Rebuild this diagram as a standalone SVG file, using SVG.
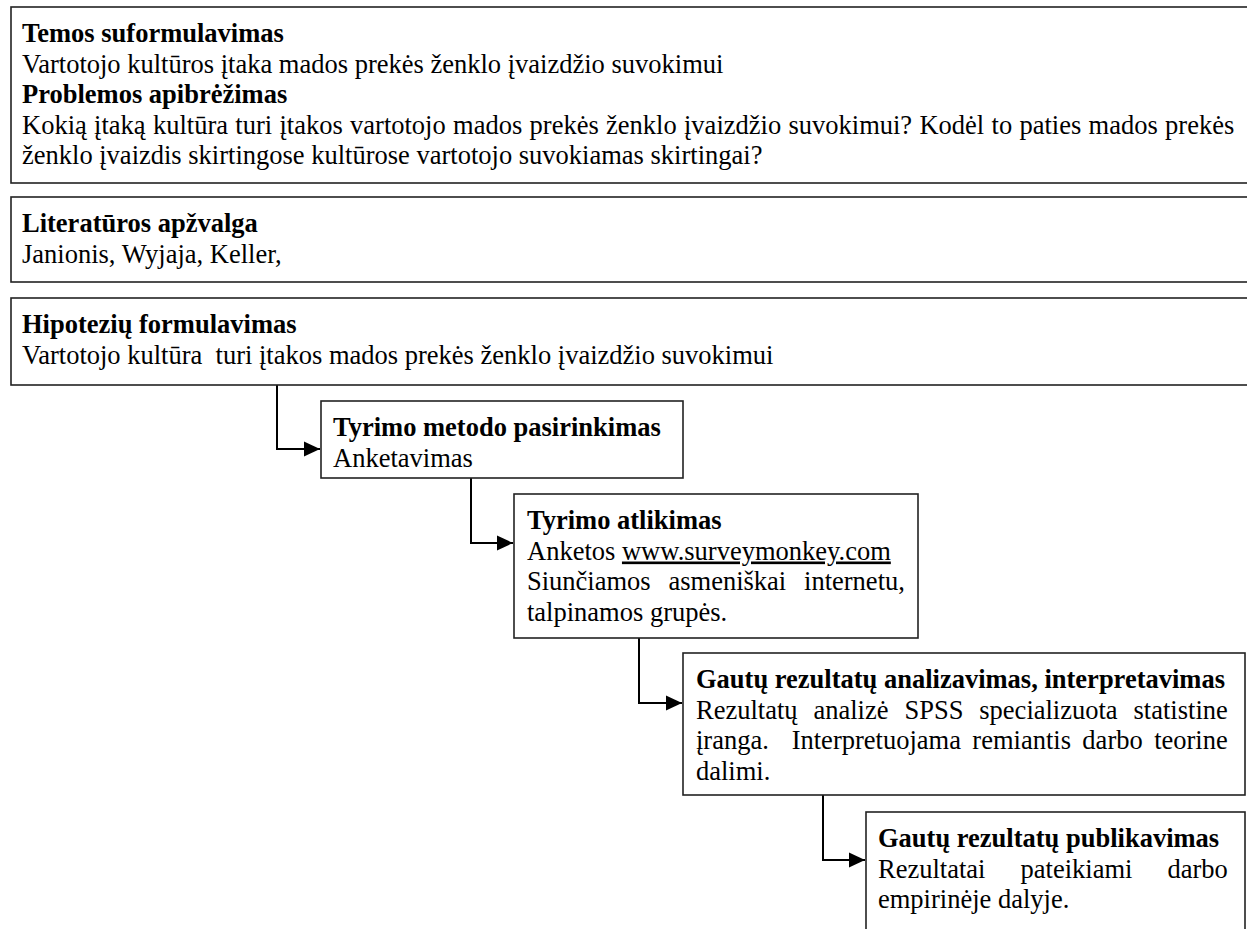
<svg xmlns="http://www.w3.org/2000/svg" width="1247" height="929" viewBox="0 0 1247 929">
<style>
.box{fill:#fff;stroke:#222;stroke-width:1.6}
.t{font-family:"Liberation Serif","Times New Roman",serif;font-size:26.5px;fill:#000}
.b{font-weight:bold}
.con{fill:none;stroke:#000;stroke-width:2}
</style>
<defs>
<marker id="arr" markerUnits="userSpaceOnUse" markerWidth="17" markerHeight="16" refX="16" refY="8" orient="auto">
<path d="M0,0.5 L16,8 L0,15.5 Z" fill="#000"/>
</marker>
</defs>
<rect width="1247" height="929" fill="#fff"/>
<g id="connectors">
<path class="con" d="M277 385 V449 H320" marker-end="url(#arr)"/>
<path class="con" d="M471 478 V543 H513" marker-end="url(#arr)"/>
<path class="con" d="M639 638 V703 H682" marker-end="url(#arr)"/>
<path class="con" d="M823 795 V860 H865" marker-end="url(#arr)"/>
</g>
<g id="n1">
<rect class="box" x="11" y="7" width="1260" height="176"/>
<text class="t b" x="22" y="42">Temos suformulavimas</text>
<text class="t" x="22" y="72.5">Vartotojo kultūros įtaka mados prekės ženklo įvaizdžio suvokimui</text>
<text class="t b" x="22" y="103">Problemos apibrėžimas</text>
<text class="t" x="22" y="133.5" word-spacing="0.7">Kokią įtaką kultūra turi įtakos vartotojo mados prekės ženklo įvaizdžio suvokimui? Kodėl to paties mados prekės</text>
<text class="t" x="22" y="164">ženklo įvaizdis skirtingose kultūrose vartotojo suvokiamas skirtingai?</text>
</g>
<g id="n2">
<rect class="box" x="11" y="197" width="1260" height="85"/>
<text class="t b" x="22" y="232">Literatūros apžvalga</text>
<text class="t" x="22" y="262.5">Janionis, Wyjaja, Keller,</text>
</g>
<g id="n3">
<rect class="box" x="11" y="298" width="1260" height="87"/>
<text class="t b" x="22" y="333">Hipotezių formulavimas</text>
<text class="t" x="22" y="363.5" xml:space="preserve">Vartotojo kultūra  turi įtakos mados prekės ženklo įvaizdžio suvokimui</text>
</g>
<g id="n4">
<rect class="box" x="321" y="401" width="362" height="77"/>
<text class="t b" x="333" y="436">Tyrimo metodo pasirinkimas</text>
<text class="t" x="333" y="466.5">Anketavimas</text>
</g>
<g id="n5">
<rect class="box" x="514" y="494" width="404" height="144"/>
<text class="t b" x="527" y="529">Tyrimo atlikimas</text>
<text class="t" x="527" y="559.5">Anketos <tspan text-decoration="underline">www.surveymonkey.com</tspan></text>
<text class="t" x="527" y="590" word-spacing="11.2">Siunčiamos asmeniškai internetu,</text>
<text class="t" x="527" y="620.5">talpinamos grupės.</text>
</g>
<g id="n6">
<rect class="box" x="683" y="653" width="562" height="142"/>
<text class="t b" x="696" y="688">Gautų rezultatų analizavimas, interpretavimas</text>
<text class="t" x="696" y="718.5" word-spacing="9.3">Rezultatų analizė SPSS specializuota statistine</text>
<text class="t" x="696" y="749" word-spacing="4.8" xml:space="preserve">įranga.  Interpretuojama remiantis darbo teorine</text>
<text class="t" x="696" y="779.5">dalimi.</text>
</g>
<g id="n7">
<rect class="box" x="866" y="812" width="379" height="140"/>
<text class="t b" x="878" y="847">Gautų rezultatų publikavimas</text>
<text class="t" x="878" y="877.5" word-spacing="28.5">Rezultatai pateikiami darbo</text>
<text class="t" x="878" y="908">empirinėje dalyje.</text>
</g>
</svg>
